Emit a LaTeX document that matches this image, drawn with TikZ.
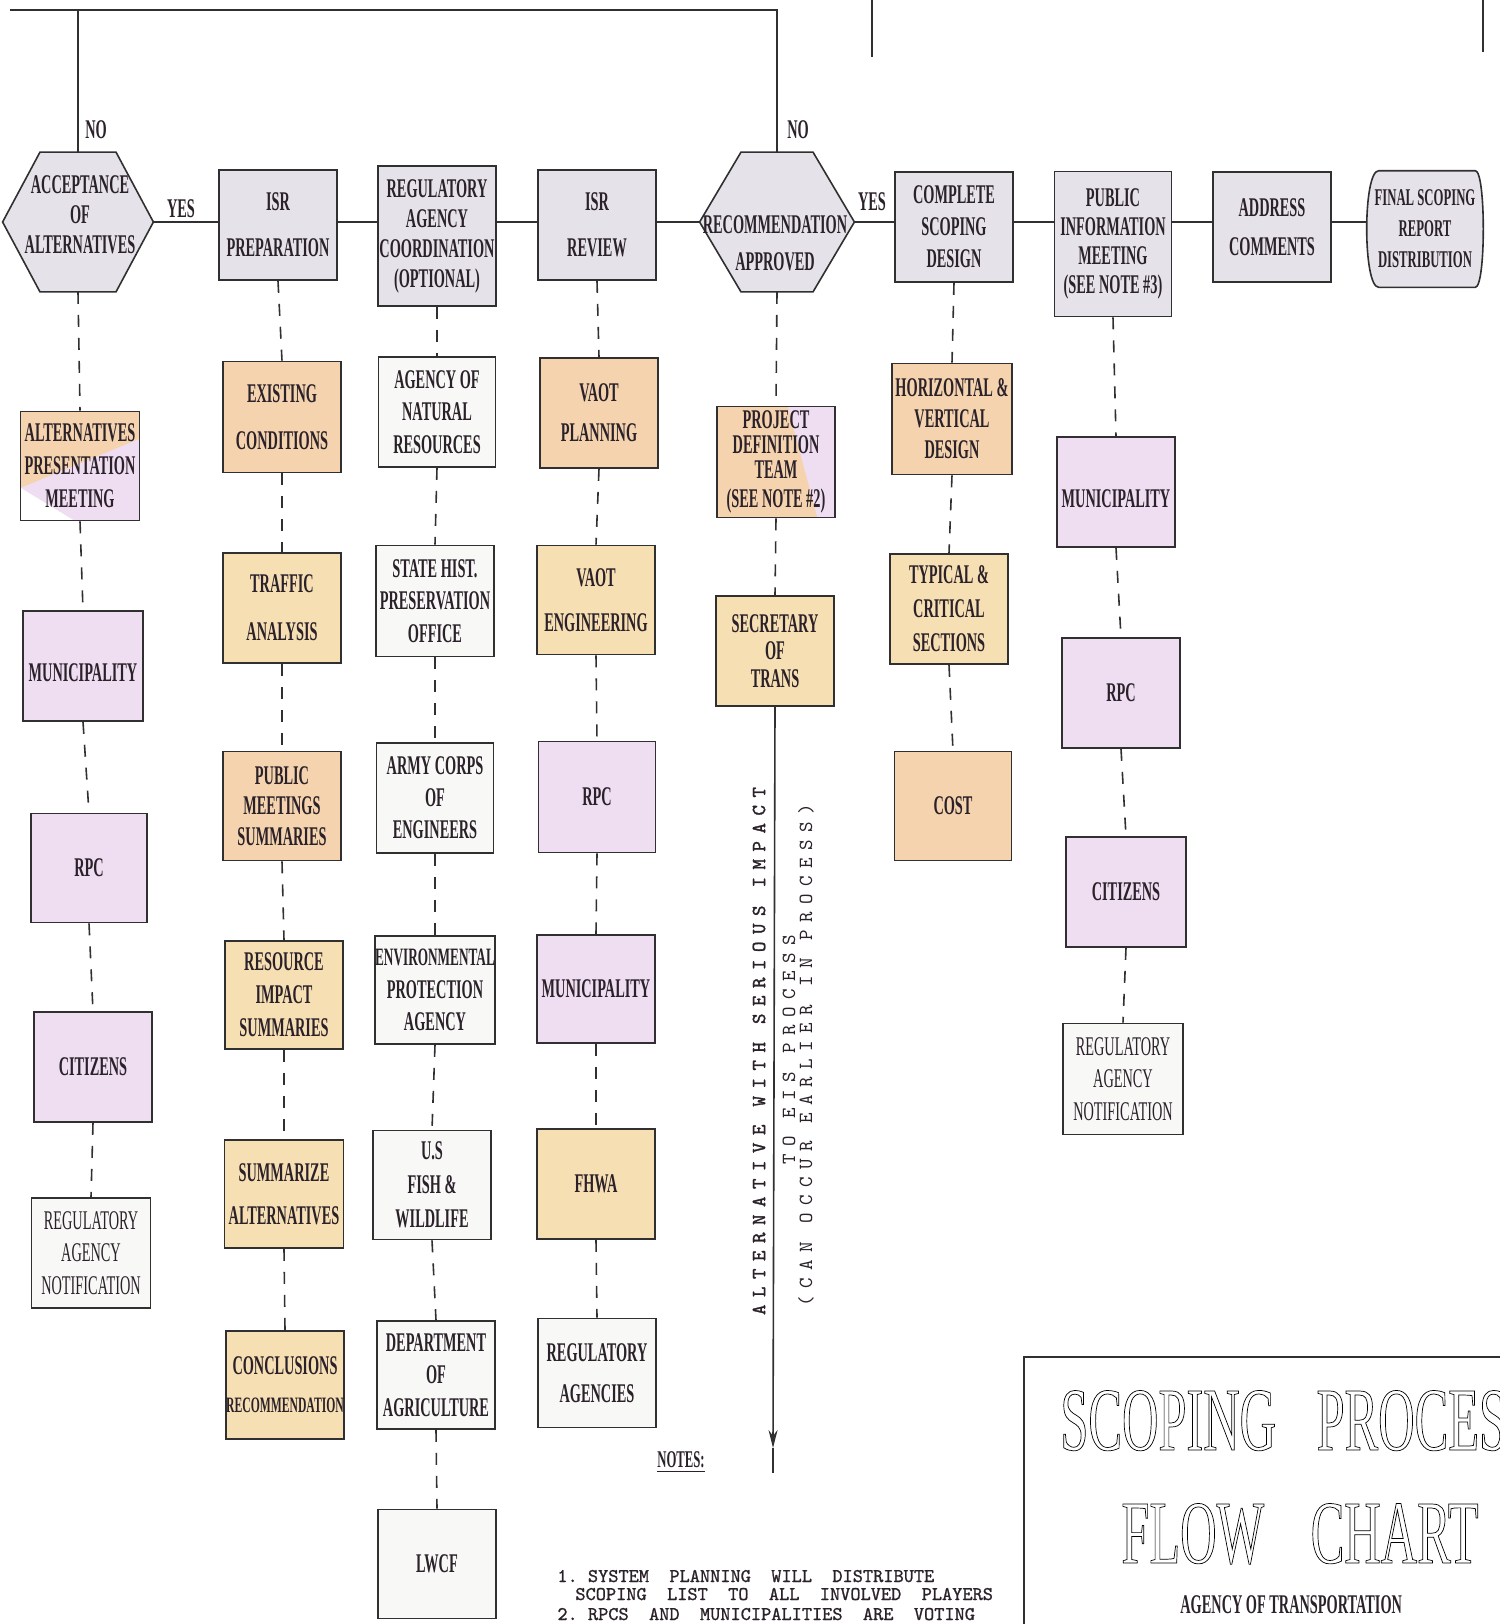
\documentclass[tikz,border=0pt]{standalone}
\usepackage{fontspec}
\usetikzlibrary{backgrounds,arrows.meta,calc}
\newfontfamily\bxfont{Liberation Serif}[FakeStretch=0.53]
\newfontfamily\titlefont{Liberation Serif}[FakeStretch=0.56]
\newfontfamily\twfont{Latin Modern Mono}[LetterSpace=37.5]
\newfontfamily\twbfont{Latin Modern Mono}[LetterSpace=37.5,FakeBold=1.5]
\newfontfamily\notefont{Latin Modern Mono}[FakeBold=1]
\definecolor{ctop}{HTML}{E6E2E9}
\definecolor{cpeach}{HTML}{F4D3AE}
\definecolor{cyell}{HTML}{F7DFB4}
\definecolor{clav}{HTML}{EFDDF1}
\definecolor{cwhite}{HTML}{F8F8F7}
\definecolor{linec}{HTML}{303030}
\definecolor{txtc}{HTML}{2A2129}
\newcommand\outl[1]{\special{pdf:literal direct 0.35 w 1 Tr}#1\special{pdf:literal direct 0 Tr}}
\tikzset{
  box/.style={draw=linec, line width=0.8pt, minimum width=59pt, minimum height=55pt,
    inner sep=0pt, align=center, text=txtc, font=\bxfont\bfseries\fontsize{13.5}{16}\selectfont},
  lightbox/.style={box, font=\bxfont\fontsize{13.5}{16}\selectfont},
  ftop/.style={fill=ctop},
  fpeach/.style={fill=cpeach},
  fyell/.style={fill=cyell},
  flav/.style={fill=clav},
  fwhite/.style={fill=cwhite},
  conn/.style={draw=linec, line width=0.8pt},
  dline/.style={draw=linec, line width=0.8pt, dash pattern=on 6pt off 5.5pt},
  hexnode/.style={rectangle, minimum width=75pt, minimum height=69.5pt, inner sep=0pt},
  hexshape/.style={fill=ctop, draw=linec, line width=0.8pt},
  hextext/.style={align=center, inner sep=0pt, text=txtc, font=\bxfont\bfseries\fontsize{13.5}{15}\selectfont},
  lbl/.style={inner sep=0pt, text=txtc, font=\bxfont\bfseries\fontsize{13.5}{16}\selectfont},
  rot/.style={rotate=90, inner sep=0pt, text=txtc},
  mixalt/.style={path picture={
      \coordinate (pNW) at (path picture bounding box.north west);
      \coordinate (pNE) at (path picture bounding box.north east);
      \coordinate (pSW) at (path picture bounding box.south west);
      \coordinate (pSE) at (path picture bounding box.south east);
      \fill[clav] (pSW) rectangle (pNE);
      \fill[cpeach] (pNW) -- (pNE) -- ($(pNE)!0.25!(pSE)$) -- ($(pNW)!0.7!(pSW)$) -- cycle;
      \fill[white] ($(pNW)!0.7!(pSW)$) -- (pSW) -- ($(pSW)!0.45!(pSE)$) -- cycle;}},
  mixpdt/.style={path picture={
      \coordinate (pNW) at (path picture bounding box.north west);
      \coordinate (pNE) at (path picture bounding box.north east);
      \coordinate (pSW) at (path picture bounding box.south west);
      \coordinate (pSE) at (path picture bounding box.south east);
      \fill[cpeach] (pSW) rectangle (pNE);
      \fill[clav] ($(pNW)!0.6!(pNE)$) -- (pNE) -- (pSE) -- ($(pSW)!0.85!(pSE)$) -- cycle;}},
}
\begin{document}
\begin{tikzpicture}[x=0.5pt,y=-0.5pt]
\useasboundingbox (0,0) rectangle (1500,1624);
\clip (0,0) rectangle (1500,1624);

% ---------- top row ----------
\node[hexnode] (hex1) at (78,222) {};
\node[hextext] (hex1t) at (80,215) {ACCEPTANCE\\OF\\ALTERNATIVES};
\node[box,ftop] (isrprep) at (278,225) {ISR\\[7pt]PREPARATION};
\node[box,ftop,minimum height=70pt] (regcoord) at (437,236) {REGULATORY\\[-1pt]AGENCY\\[-1pt]COORDINATION\\[-1pt](OPTIONAL)};
\node[box,ftop] (isrrev) at (597,225) {ISR\\[7pt]REVIEW};
\node[hexnode, minimum width=77pt] (hex2) at (777,222) {};
\node[hextext] (hex2t) at (775,243) {RECOMMENDATION\\[3.5pt]APPROVED};
\node[box,ftop] (complete) at (954,227) {COMPLETE\\SCOPING\\DESIGN};
\node[box,ftop,minimum width=58.5pt,minimum height=72.5pt] (public) at (1113,244) {PUBLIC\\[-1.5pt]INFORMATION\\[-1.5pt]MEETING\\[-1.5pt](SEE NOTE \#3)};
\node[box,ftop] (address) at (1272,227) {ADDRESS\\[3.5pt]COMMENTS};
\node[box,draw=none,minimum width=57.5pt,minimum height=57.5pt,
  font=\bxfont\bfseries\fontsize{12}{15.5}\selectfont] (final) at (1425,229) {FINAL SCOPING\\REPORT\\DISTRIBUTION};

\begin{scope}[on background layer]
\draw[hexshape] (hex1.west) -- ([xshift=-19pt]hex1.north) -- ([xshift=19pt]hex1.north) -- (hex1.east)
  -- ([xshift=19pt]hex1.south) -- ([xshift=-19pt]hex1.south) -- cycle;
\draw[hexshape] (hex2.west) -- ([xshift=-18pt]hex2.north) -- ([xshift=18pt]hex2.north) -- (hex2.east)
  -- ([xshift=18pt]hex2.south) -- ([xshift=-18pt]hex2.south) -- cycle;
\draw[hexshape] ([xshift=6pt]final.north west) -- ([xshift=-4pt]final.north east)
  .. controls ([xshift=1.33pt]final.north east) and ([xshift=1.33pt]final.south east) .. ([xshift=-4pt]final.south east)
  -- ([xshift=6pt]final.south west)
  .. controls ([xshift=-2pt]final.south west) and ([xshift=-2pt]final.north west) .. cycle;
\end{scope}

% labels
\node[lbl] (no1) at (96,130) {NO};
\node[lbl] (no2) at (798,130) {NO};
\node[lbl] (yes1) at (181,209) {YES};
\node[lbl] (yes2) at (872,202) {YES};

% ---------- column 1 ----------
\node[box,mixalt,minimum width=59.5pt,minimum height=54.5pt] (altpres) at (80,466) {ALTERNATIVES\\[0.5pt]PRESENTATION\\[0.5pt]MEETING};
\node[box,flav,minimum width=60pt] (muni1) at (83,666) {\\MUNICIPALITY};
\node[box,flav,minimum width=58pt,minimum height=54.5pt] (rpc1) at (89,868) {RPC};
\node[box,flav] (cit1) at (93,1067) {CITIZENS};
\node[lightbox,fwhite,minimum width=59.5pt] (regnot1) at (91,1253) {REGULATORY\\[0.25pt]AGENCY\\[0.25pt]NOTIFICATION};

% ---------- column 2 ----------
\node[box,fpeach,minimum height=55.5pt] (exist) at (282,417) {EXISTING\\[7.5pt]CONDITIONS};
\node[box,fyell] (traffic) at (282,608) {TRAFFIC\\[8pt]ANALYSIS};
\node[box,fpeach,minimum height=54.5pt] (pubmeet) at (282,806) {PUBLIC\\[-0.75pt]MEETINGS\\[-0.75pt]SUMMARIES};
\node[box,fyell,minimum height=54pt] (resource) at (284,995) {RESOURCE\\[0.5pt]IMPACT\\[0.5pt]SUMMARIES};
\node[box,fyell,minimum height=54pt,minimum width=59.5pt] (summ) at (284,1194) {SUMMARIZE\\[5.5pt]ALTERNATIVES};
\node[box,fyell,minimum height=54pt] (concl) at (285,1385) {CONCLUSIONS\\[3pt]{\fontsize{11}{13}\selectfont RECOMMENDATION}};

% ---------- column 3 ----------
\node[box,fwhite,minimum width=58.5pt] (anr) at (437,412) {AGENCY OF\\[0.25pt]NATURAL\\[0.25pt]RESOURCES};
\node[box,fwhite,minimum height=55.5pt] (shpo) at (435,601) {STATE HIST.\\[0.25pt]PRESERVATION\\[0.25pt]OFFICE};
\node[box,fwhite,minimum width=58.5pt] (army) at (435,798) {ARMY CORPS\\OF\\ENGINEERS};
\node[box,fwhite,minimum height=54pt] (epa) at (435,990) {{\fontsize{12.5}{16}\selectfont ENVIRONMENTAL}\\[0.25pt]PROTECTION\\[0.25pt]AGENCY};
\node[box,fwhite,minimum height=54.5pt] (fish) at (432,1185) {U.S\\[1pt]FISH \&\\[1pt]WILDLIFE};
\node[box,fwhite,minimum height=54pt] (agri) at (436,1375) {DEPARTMENT\\[0.25pt]OF\\[0.25pt]AGRICULTURE};
\node[box,fwhite,minimum height=54.5pt] (lwcf) at (437,1564) {LWCF};

% ---------- column 4 ----------
\node[box,fpeach] (vaotp) at (599,413) {VAOT\\[4pt]PLANNING};
\node[box,fyell,minimum height=54.5pt] (vaote) at (596,600) {VAOT\\[6.5pt]ENGINEERING};
\node[box,flav,minimum width=58.5pt,minimum height=55.5pt] (rpc4) at (597,797) {RPC};
\node[box,flav,minimum height=54pt] (muni4) at (596,989) {MUNICIPALITY};
\node[box,fyell] (fhwa) at (596,1184) {FHWA};
\node[box,fwhite,minimum height=54.5pt] (regag) at (597,1373) {REGULATORY\\[4.5pt]AGENCIES};

% ---------- column 5 ----------
\node[box,mixpdt,minimum height=55.5pt,font=\bxfont\bfseries\fontsize{13.5}{12.5}\selectfont] (pdt) at (776,462) {PROJECT\\DEFINITION\\TEAM\\[2pt](SEE NOTE \#2)};
\node[box,fyell] (sec) at (775,651) {SECRETARY\\[-2.25pt]OF\\[-2.25pt]TRANS};
\coordinate (arrtip) at (773,1448);
\coordinate (lineend) at (773,1473);
\node[rot,font=\twbfont\fontsize{10}{12}\selectfont] (rt1) at (759,1051) {ALTERNATIVE WITH SERIOUS IMPACT};
\node[rot,font=\twfont\fontsize{10}{12}\selectfont] (rt2) at (789,1050) {TO EIS PROCESS};
\node[rot,font=\twfont\fontsize{10}{12}\selectfont] (rt3) at (806,1055) {(CAN OCCUR EARLIER IN PROCESS)};

% ---------- column 6 ----------
\node[box,fpeach,minimum width=60pt,minimum height=55.5pt] (horiz) at (952,419) {HORIZONTAL \&\\[-0.5pt]VERTICAL\\[-0.5pt]DESIGN};
\node[box,fyell] (typ) at (949,609) {TYPICAL \&\\[1pt]CRITICAL\\[1pt]SECTIONS};
\node[box,fpeach,minimum width=58.5pt,minimum height=54.5pt] (cost) at (953,806) {COST};

% ---------- column 7 ----------
\node[box,flav] (muni7) at (1116,492) {\\MUNICIPALITY};
\node[box,flav] (rpc7) at (1121,693) {RPC};
\node[box,flav,minimum width=60pt] (cit7) at (1126,892) {CITIZENS};
\node[lightbox,fwhite,minimum width=60pt,minimum height=55.5pt] (regnot7) at (1123,1079) {REGULATORY\\[0.25pt]AGENCY\\[0.25pt]NOTIFICATION};

% ---------- connectors ----------
\coordinate (topL) at (10,10);
\draw[conn] (topL) -- (hex2.north |- topL) -- (hex2.north);
\draw[conn] (hex1.north) -- (hex1.north |- topL);
\draw[conn] (hex1.east) -- (isrprep.west |- hex1.east);
\draw[conn] (isrprep.east |- hex1.east) -- (regcoord.west |- hex1.east);
\draw[conn] (regcoord.east |- hex1.east) -- (isrrev.west |- hex1.east);
\draw[conn] (isrrev.east |- hex1.east) -- (hex2.west);
\draw[conn] (hex2.east) -- (complete.west |- hex2.east);
\draw[conn] (complete.east |- hex2.east) -- (public.west |- hex2.east);
\draw[conn] (public.east |- hex2.east) -- (address.west |- hex2.east);
\draw[conn] (address.east |- hex2.east) -- (final.west |- hex2.east);

\draw[dline] (hex1.south) -- (altpres.north);
\draw[dline] (altpres.south) -- (muni1.north);
\draw[dline] (muni1.south) -- (rpc1.north);
\draw[dline] (rpc1.south) -- (cit1.north);
\draw[dline] (cit1.south) -- (regnot1.north);

\draw[dline] (isrprep.south) -- (exist.north);
\draw[dline] (exist.south) -- (traffic.north);
\draw[dline] (traffic.south) -- (pubmeet.north);
\draw[dline] (pubmeet.south) -- (resource.north);
\draw[dline] (resource.south) -- (summ.north);
\draw[dline] (summ.south) -- (concl.north);

\draw[dline] (regcoord.south) -- (anr.north);
\draw[dline] (anr.south) -- (shpo.north);
\draw[dline] (shpo.south) -- (army.north);
\draw[dline] (army.south) -- (epa.north);
\draw[dline] (epa.south) -- (fish.north);
\draw[dline] (fish.south) -- (agri.north);
\draw[dline] (agri.south) -- (lwcf.north);

\draw[dline] (isrrev.south) -- (vaotp.north);
\draw[dline] (vaotp.south) -- (vaote.north);
\draw[dline] (vaote.south) -- (rpc4.north);
\draw[dline] (rpc4.south) -- (muni4.north);
\draw[dline] (muni4.south) -- (fhwa.north);
\draw[dline] (fhwa.south) -- (regag.north);

\draw[dline] (hex2.south) -- (pdt.north);
\draw[dline] (pdt.south) -- (sec.north);
\draw[conn,-{Stealth[length=9pt,width=4.5pt]}] (sec.south) -- (arrtip);
\draw[conn] (arrtip) -- (lineend);

\draw[dline] (complete.south) -- (horiz.north);
\draw[dline] (horiz.south) -- (typ.north);
\draw[dline] (typ.south) -- (cost.north);

\draw[dline] (public.south) -- (muni7.north);
\draw[dline] (muni7.south) -- (rpc7.north);
\draw[dline] (rpc7.south) -- (cit7.north);
\draw[dline] (cit7.south) -- (regnot7.north);

% stray top-right lines
\coordinate (trA1) at (872,0); \coordinate (trA2) at (872,57);
\coordinate (trB1) at (1483,0); \coordinate (trB2) at (1483,52);
\draw[conn] (trA1) -- (trA2);
\draw[conn] (trB1) -- (trB2);

% ---------- notes ----------
\node[lbl,font=\bxfont\bfseries\fontsize{12}{14}\selectfont] (notes) at (681,1462) {\underline{NOTES:}};
\node[anchor=base west,inner sep=0pt,text=txtc,font=\notefont\fontsize{9.7}{11}\selectfont] (n1) at (557,1582) {1.\ SYSTEM\ \ PLANNING\ \ WILL\ \ DISTRIBUTE};
\node[anchor=base west,inner sep=0pt,text=txtc,font=\notefont\fontsize{9.7}{11}\selectfont] (n2) at (575,1600) {SCOPING\ \ LIST\ \ TO\ \ ALL\ \ INVOLVED\ \ PLAYERS};
\node[anchor=base west,inner sep=0pt,text=txtc,font=\notefont\fontsize{9.7}{11}\selectfont] (n3) at (557,1620) {2.\ RPCS\ \ AND\ \ MUNICIPALITIES\ \ ARE\ \ VOTING};

% ---------- title block ----------
\coordinate (tbBL) at (1024,1640);
\coordinate (tbTL) at (1024,1357);
\coordinate (tbTR) at (1520,1357);
\draw[draw=linec, line width=1pt] (tbBL) -- (tbTL) -- (tbTR);
\node[anchor=base west,inner sep=0pt,font=\titlefont\fontsize{45}{50}\selectfont] (t1) at (1060,1450) {\outl{SCOPING\hspace{14pt} PROCESS}};
\node[anchor=base west,inner sep=0pt,font=\titlefont\fontsize{45}{50}\selectfont] (t2) at (1121,1563) {\outl{FLOW\hspace{17pt} CHART}};
\node[anchor=base west,inner sep=0pt,text=txtc,font=\bxfont\bfseries\fontsize{13.5}{16}\selectfont] (t3) at (1180,1613) {AGENCY OF TRANSPORTATION};
\end{tikzpicture}
\end{document}
